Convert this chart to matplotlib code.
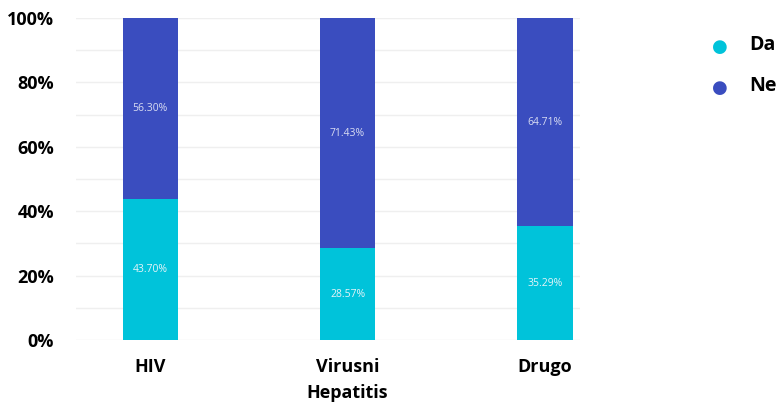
import matplotlib
matplotlib.use("Agg")
import matplotlib.pyplot as plt
import numpy as np

categories = ["HIV", "Virusni\nHepatitis", "Drugo"]
da_values = [43.70, 28.57, 35.29]
ne_values = [56.30, 71.43, 64.71]
series_names = ["Da", "Ne"]
y_ticks = [0, 20, 40, 60, 80, 100]

col_da = "#00c3da"
col_ne = "#3a4dbf"

plt.rcParams["font.family"] = ["Open Sans", "DejaVu Sans"]

fig = plt.figure(figsize=(7.8, 4.05), dpi=100)
ax = fig.add_axes([76 / 780, 65 / 405, (580 - 76) / 780, 322 / 405])

x = np.arange(len(categories))
w = 0.28
ax.bar(x, da_values, width=w, color=col_da, zorder=2)
ax.bar(x, ne_values, width=w, bottom=da_values, color=col_ne, zorder=2)

for xi, d, n in zip(x, da_values, ne_values):
    ax.text(xi, d / 2, f"{d:.2f}%", ha="center", va="center",
            fontsize=7.5, color="#e6f4f8", zorder=3)
    ax.text(xi, d + n / 2, f"{n:.2f}%", ha="center", va="center",
            fontsize=7.5, color="#d8dcf2", zorder=3)

ax.set_xlim(-0.376, 2.178)
ax.set_ylim(0, 100)
ax.set_yticks(y_ticks)
ax.set_yticklabels([f"{t}%" for t in y_ticks], fontsize=13, fontweight="bold")
ax.set_yticks(np.arange(0, 101, 10), minor=True)
ax.grid(axis="y", which="both", color="#efefef", linewidth=1, zorder=0)
ax.set_xticks(x)
ax.set_xticklabels(categories, fontsize=13, fontweight="bold", linespacing=1.6)
ax.tick_params(axis="both", which="both", length=0)
ax.tick_params(axis="y", pad=16)
ax.tick_params(axis="x", pad=13)
for s in ax.spines.values():
    s.set_visible(False)

# legend on the right
for i, (name, col) in enumerate(zip(series_names, [col_da, col_ne])):
    yy = 1 - (47 + i * 41) / 405
    fig.text(720 / 780, yy, "\u25cf", color=col, fontsize=13, ha="center", va="center")
    fig.text(749 / 780, yy + 0.004, name, fontsize=14, fontweight="bold", ha="left", va="center")

fig.savefig("out.png", dpi=100)
